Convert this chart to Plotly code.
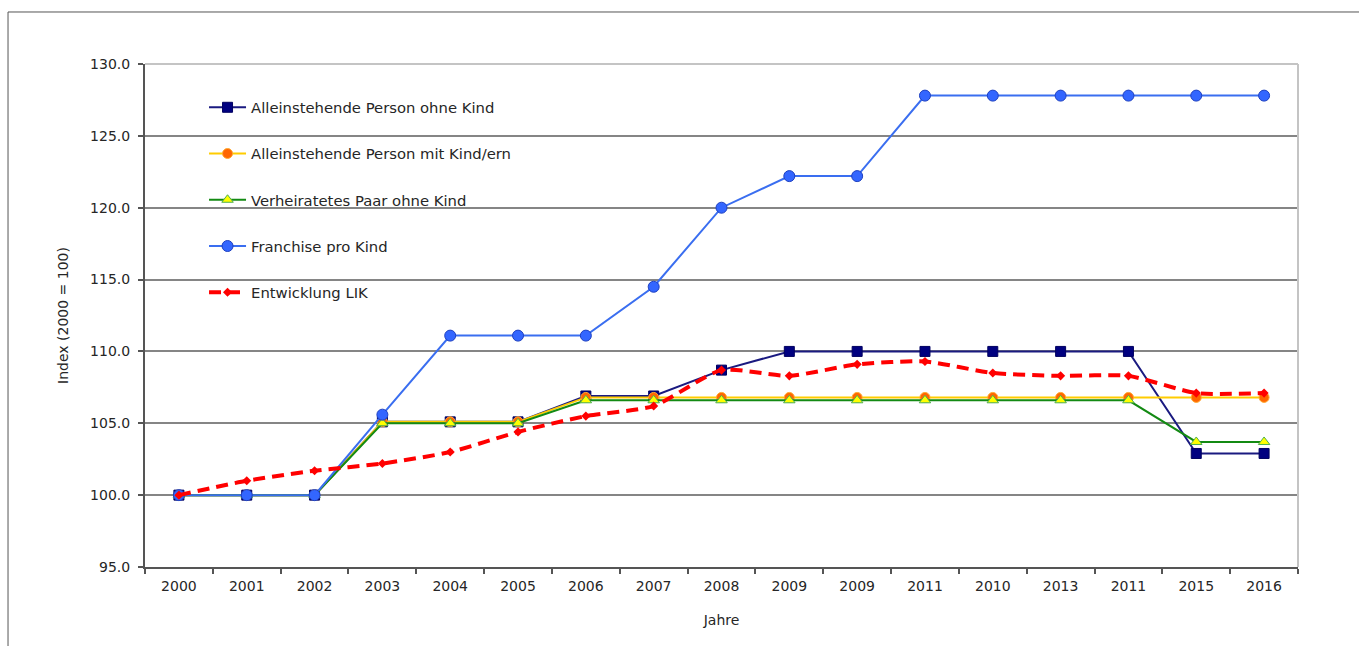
import plotly.graph_objects as go

# Category labels as printed on the x axis (duplicates are intentional)
jahre = ["2000", "2001", "2002", "2003", "2004", "2005", "2006", "2007", "2008",
         "2009", "2009", "2011", "2010", "2013", "2011", "2015", "2016"]

ohne_kind = [100.0, 100.0, 100.0, 105.1, 105.1, 105.1, 106.9, 106.9, 108.7,
             110.0, 110.0, 110.0, 110.0, 110.0, 110.0, 102.9, 102.9]
mit_kind = [100.0, 100.0, 100.0, 105.1, 105.1, 105.1, 106.8, 106.8, 106.8,
            106.8, 106.8, 106.8, 106.8, 106.8, 106.8, 106.8, 106.8]
paar_ohne_kind = [100.0, 100.0, 100.0, 105.0, 105.0, 105.0, 106.6, 106.6, 106.6,
                  106.6, 106.6, 106.6, 106.6, 106.6, 106.6, 103.7, 103.7]
franchise_kind = [100.0, 100.0, 100.0, 105.6, 111.1, 111.1, 111.1, 114.5, 120.0,
                  122.2, 122.2, 127.8, 127.8, 127.8, 127.8, 127.8, 127.8]
lik = [100.0, 101.0, 101.7, 102.2, 103.0, 104.4, 105.5, 106.2, 108.7,
       108.3, 109.1, 109.3, 108.5, 108.3, 108.3, 107.1, 107.1]

y_ticks = [95, 100, 105, 110, 115, 120, 125, 130]

x_pos = list(range(len(jahre)))
FONT = "DejaVu Sans, Liberation Sans, Arial, sans-serif"
TXT = "#262626"

fig = go.Figure()

fig.add_trace(go.Scatter(
    x=x_pos, y=ohne_kind, name="Alleinstehende Person ohne Kind",
    mode="lines+markers", legendgroup="a",
    line=dict(color="#1a1a80", width=2),
    marker=dict(symbol="square", size=10, color="#000080",
                line=dict(color="#000060", width=1)),
))
fig.add_trace(go.Scatter(
    x=x_pos, y=mit_kind, name="Alleinstehende Person mit Kind/ern",
    mode="lines+markers", legendgroup="b",
    line=dict(color="#FFCC00", width=2),
    marker=dict(symbol="circle", size=10, color="#FF6600",
                line=dict(color="#FFAA33", width=1)),
))
fig.add_trace(go.Scatter(
    x=x_pos, y=paar_ohne_kind, name="Verheiratetes Paar ohne Kind",
    mode="lines+markers", legendgroup="c",
    line=dict(color="#138A13", width=2),
    marker=dict(symbol="triangle-up", size=10, color="#FFFF00",
                line=dict(color="#4CAF50", width=1)),
))
fig.add_trace(go.Scatter(
    x=x_pos, y=franchise_kind, name="Franchise pro Kind",
    mode="lines+markers", legendgroup="d",
    line=dict(color="#3A6EF0", width=2),
    marker=dict(symbol="circle", size=11, color="#3366FF",
                line=dict(color="#1E40C0", width=1)),
))
fig.add_trace(go.Scatter(
    x=x_pos, y=lik, name="Entwicklung LIK",
    mode="lines+markers", legendgroup="e",
    line=dict(color="#FF0000", width=4, dash="12px,7px", shape="spline",
              smoothing=0.6),
    marker=dict(symbol="diamond", size=7, color="#FF0000"),
))

# Plot-area border (top and right) and the outer frame of the figure
shapes = [
    dict(type="line", xref="paper", yref="paper", x0=0, x1=1, y0=1, y1=1,
         line=dict(color="#c4c4c4", width=2), layer="above"),
    dict(type="line", xref="paper", yref="paper", x0=1, x1=1, y0=0, y1=1,
         line=dict(color="#c4c4c4", width=2), layer="above"),
    dict(type="line", xref="paper", yref="paper", x0=-0.1188, x1=1.06,
         y0=1.1034, y1=1.1034, line=dict(color="#555555", width=1)),
    dict(type="line", xref="paper", yref="paper", x0=-0.1188, x1=-0.1188,
         y0=-0.2, y1=1.1034, line=dict(color="#555555", width=1)),
]

fig.update_layout(
    width=1359, height=646,
    margin=dict(l=145, r=61, t=64, b=79),
    paper_bgcolor="white", plot_bgcolor="white",
    font=dict(family=FONT, size=14, color=TXT),
    showlegend=True,
    legend=dict(
        x=0.0512, y=0.946, xanchor="left", yanchor="top",
        bgcolor="rgba(0,0,0,0)", borderwidth=0,
        font=dict(family=FONT, size=14.8, color=TXT),
        tracegroupgap=24, itemwidth=37,
    ),
    shapes=shapes,
    xaxis=dict(
        range=[-0.5, 16.5], tickmode="array", tickvals=x_pos, ticktext=jahre,
        ticks="", showgrid=False, zeroline=False,
        showline=True, linecolor="#555555", linewidth=2,
        tickfont=dict(family=FONT, size=14, color=TXT),
        ticklabelstandoff=5,
        minor=dict(tickmode="array", tickvals=[i - 0.5 for i in range(18)],
                   ticks="outside", ticklen=5, tickcolor="#555555",
                   tickwidth=2, showgrid=False),
        title=dict(text="Jahre", standoff=22,
                   font=dict(family=FONT, size=14, color=TXT)),
        fixedrange=True,
    ),
    yaxis=dict(
        range=[95, 130], tickmode="array", tickvals=y_ticks,
        ticktext=[f"{v:.1f}" for v in y_ticks],
        ticks="outside", ticklen=5, tickcolor="#555555", tickwidth=2,
        ticklabelstandoff=5,
        showgrid=True, gridcolor="#858585", gridwidth=2,
        zeroline=False, showline=True, linecolor="#555555", linewidth=2,
        tickfont=dict(family=FONT, size=14, color=TXT),
        title=dict(text="Index (2000 = 100)", standoff=18,
                   font=dict(family=FONT, size=14, color=TXT)),
        fixedrange=True,
    ),
)

fig.write_html("out.html")
